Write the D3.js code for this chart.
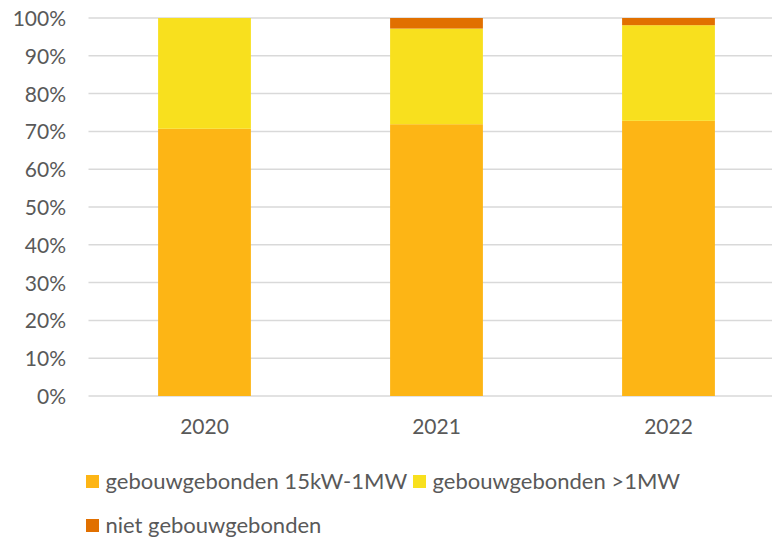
<!DOCTYPE html>
<html>
<head>
<meta charset="utf-8">
<script src="https://cdn.jsdelivr.net/npm/d3@7"></script>
<style>
  body { margin: 0; background: #fff; }
  text { font-family: Lato, "Open Sans", sans-serif; fill: #595959; }
</style>
</head>
<body>
<svg width="772" height="537"></svg>
<script>
var years = ["2020", "2021", "2022"];
var seriesNames = ["gebouwgebonden 15kW-1MW", "gebouwgebonden >1MW", "niet gebouwgebonden"];
var small = [70.7, 71.9, 72.8];   // 15kW-1MW
var large = [29.3, 25.3, 25.3];   // >1MW
var notBuilding = [0, 2.8, 1.9];
var colorDict = ["#FDB515", "#F8E01E", "#E17000"];
var yTicks = [0, 10, 20, 30, 40, 50, 60, 70, 80, 90, 100];

var svg = d3.select("svg");
var plotLeft = 88.5, plotRight = 784.5, plotTop = 18, plotBottom = 396;

var rows = years.map(function(y, i){
    return {year: y, a: small[i], b: large[i], c: notBuilding[i]};
});
var layers = d3.stack().keys(["a", "b", "c"])(rows);

var x = d3.scaleBand()
    .domain(years)
    .range([plotLeft, plotRight])
    .paddingInner(0.6)
    .paddingOuter(0.3);

var y = d3.scaleLinear()
    .domain([0, 100])
    .range([plotBottom, plotTop]);

// grid
svg.append("g")
    .selectAll("line")
    .data(yTicks)
    .enter().append("line")
    .attr("x1", plotLeft)
    .attr("x2", 772)
    .attr("y1", function(d){ return y(d); })
    .attr("y2", function(d){ return y(d); })
    .attr("stroke", "#d9d9d9")
    .attr("stroke-width", 1.5);

var yAxis = svg.append("g")
    .attr("transform", "translate(66,0)")
    .call(d3.axisLeft(y).tickValues(yTicks).tickSize(0).tickPadding(0).tickFormat(function(d){ return d + "%"; }));
yAxis.select(".domain").remove();
yAxis.selectAll("text")
    .style("font-size", "21px")
    .style("font-family", "Lato, sans-serif")
    .attr("fill", "#595959")
    .attr("dy", "0.36em");

for (let k = 0; k < layers.length; k++){
    svg.append("g")
        .selectAll("rect")
        .data(layers[k])
        .enter().append("rect")
        .attr("x", function(d){ return x(d.data.year); })
        .attr("width", x.bandwidth())
        .attr("y", function(d){ return y(d[1]); })
        .attr("height", function(d){ return y(d[0]) - y(d[1]); })
        .attr("fill", colorDict[k]);
}

var xAxis = svg.append("g")
    .attr("transform", "translate(0," + plotBottom + ")")
    .call(d3.axisBottom(x).tickSize(0));
xAxis.select(".domain").remove();
xAxis.selectAll("text")
    .style("font-size", "21px")
    .style("font-family", "Lato, sans-serif")
    .attr("fill", "#595959")
    .attr("y", 38)
    .attr("dy", 0);

// legend
var legendPos = [[86, 475], [413, 475], [86, 519]];
var legend = svg.append("g")
    .selectAll("g")
    .data(seriesNames)
    .enter().append("g")
    .attr("transform", function(d, i){ return "translate(" + legendPos[i][0] + "," + legendPos[i][1] + ")"; });
legend.append("rect")
    .attr("width", 13).attr("height", 13)
    .attr("fill", function(d, i){ return colorDict[i]; });
legend.append("text")
    .attr("x", 19.5)
    .attr("y", 13.5)
    .style("font-size", "22px")
    .text(function(d){ return d; });
</script>
</body>
</html>
